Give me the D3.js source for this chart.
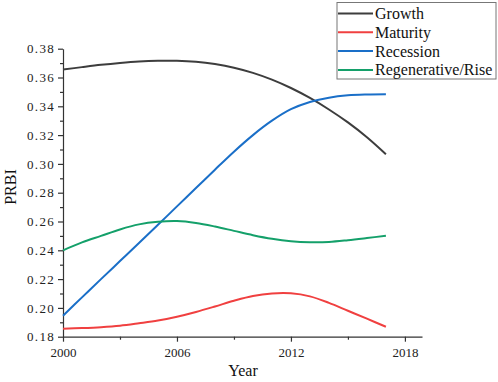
<!DOCTYPE html>
<html><head><meta charset="utf-8">
<script src="https://cdn.jsdelivr.net/npm/d3@7"></script>
<style>body{margin:0;background:#fff}</style>
</head><body>
<svg id="c" width="498" height="382"></svg>
<script>
const years = [2000,2001,2002,2003,2004,2005,2006,2007,2008,2009,2010,2011,2012,2013,2014,2015,2016,2017];
const growth = [0.3655,0.3672,0.3688,0.3701,0.3711,0.3716,0.3716,0.3709,0.3693,0.3668,0.3632,0.3585,0.3527,0.3458,0.3378,0.3288,0.3185,0.3067];
const maturity = [0.1856,0.1860,0.1866,0.1876,0.1893,0.1912,0.1939,0.1972,0.2010,0.2050,0.2083,0.2100,0.2101,0.2080,0.2035,0.1980,0.1925,0.1869];
const recession = [0.1946,0.2073,0.2200,0.2325,0.2450,0.2577,0.2705,0.2832,0.2960,0.3085,0.3200,0.3300,0.3380,0.3430,0.3460,0.3476,0.3482,0.3484];
const regen = [0.2400,0.2455,0.2500,0.2545,0.2580,0.2598,0.2603,0.2590,0.2565,0.2535,0.2505,0.2480,0.2463,0.2456,0.2458,0.2470,0.2485,0.2501];
const seriesNames = ["Growth","Maturity","Recession","Regenerative/Rise"];
const seriesColors = ["#3d3d3d","#f04040","#1a6fc8","#14a06a"];
const xTicks = [2000,2006,2012,2018];
const xMinor = [2003,2009,2015];
const yTicks = [0.18,0.20,0.22,0.24,0.26,0.28,0.30,0.32,0.34,0.36,0.38];
const yMinor = [0.19,0.21,0.23,0.25,0.27,0.29,0.31,0.33,0.35,0.37];

const svg = d3.select("#c");
const x = d3.scaleLinear().domain([2000, 2018.9]).range([63, 422]);
const y = d3.scaleLinear().domain([0.18, 0.38]).range([336.7, 48.7]);

const g = svg.append("g");
const xAxis = g.append("g").attr("transform",`translate(0,${y(0.18)})`)
  .call(d3.axisBottom(x).tickValues(xTicks).tickFormat(d3.format("d")).tickSize(5).tickPadding(6).tickSizeOuter(0));
g.append("g").attr("transform",`translate(0,${y(0.18)})`)
  .call(d3.axisBottom(x).tickValues(xMinor).tickFormat("").tickSize(3).tickSizeOuter(0))
  .select(".domain").remove();
const yAxis = g.append("g").attr("transform",`translate(${x(2000)},0)`)
  .call(d3.axisLeft(y).tickValues(yTicks).tickFormat(d3.format(".2f")).tickSize(5).tickPadding(3).tickSizeOuter(0));
g.append("g").attr("transform",`translate(${x(2000)},0)`)
  .call(d3.axisLeft(y).tickValues(yMinor).tickFormat("").tickSize(3).tickSizeOuter(0))
  .select(".domain").remove();
svg.selectAll(".domain, .tick line").attr("stroke","#333").attr("stroke-width",1.2);
svg.selectAll(".tick text").style("font-family","'Liberation Serif', serif").style("font-size","13px").attr("fill","#222");
yAxis.selectAll(".tick text").style("letter-spacing","1.3px");

const all = [growth, maturity, recession, regen];
const line = d3.line().x((d,i)=>x(years[i])).y(d=>y(d)).curve(d3.curveCatmullRom.alpha(0.5));
all.forEach((s,k)=>{
  g.append("path").datum(s).attr("d",line).attr("fill","none")
    .attr("stroke",seriesColors[k]).attr("stroke-width",2);
});

svg.append("text").attr("x",243).attr("y",376).attr("text-anchor","middle")
  .style("font-family","'Liberation Serif', serif").style("font-size","16px").attr("fill","#111").text("Year");
svg.append("text").attr("transform","translate(16,187) rotate(-90)").attr("text-anchor","middle")
  .style("font-family","'Liberation Serif', serif").style("font-size","16px").attr("fill","#111").text("PRBI");

const lg = svg.append("g");
lg.append("rect").attr("x",337).attr("y",2.5).attr("width",159).attr("height",76.5)
  .attr("fill","#fff").attr("stroke","#777").attr("stroke-width",1);
seriesNames.forEach((n,k)=>{
  const cy = 13.5 + k*18.8;
  lg.append("line").attr("x1",338).attr("x2",373).attr("y1",cy).attr("y2",cy)
    .attr("stroke",seriesColors[k]).attr("stroke-width",2);
  lg.append("text").attr("x",375).attr("y",cy+5.5)
    .style("font-family","'Liberation Serif', serif").style("font-size","16px").attr("fill","#111").text(n);
});
</script>
</body></html>
